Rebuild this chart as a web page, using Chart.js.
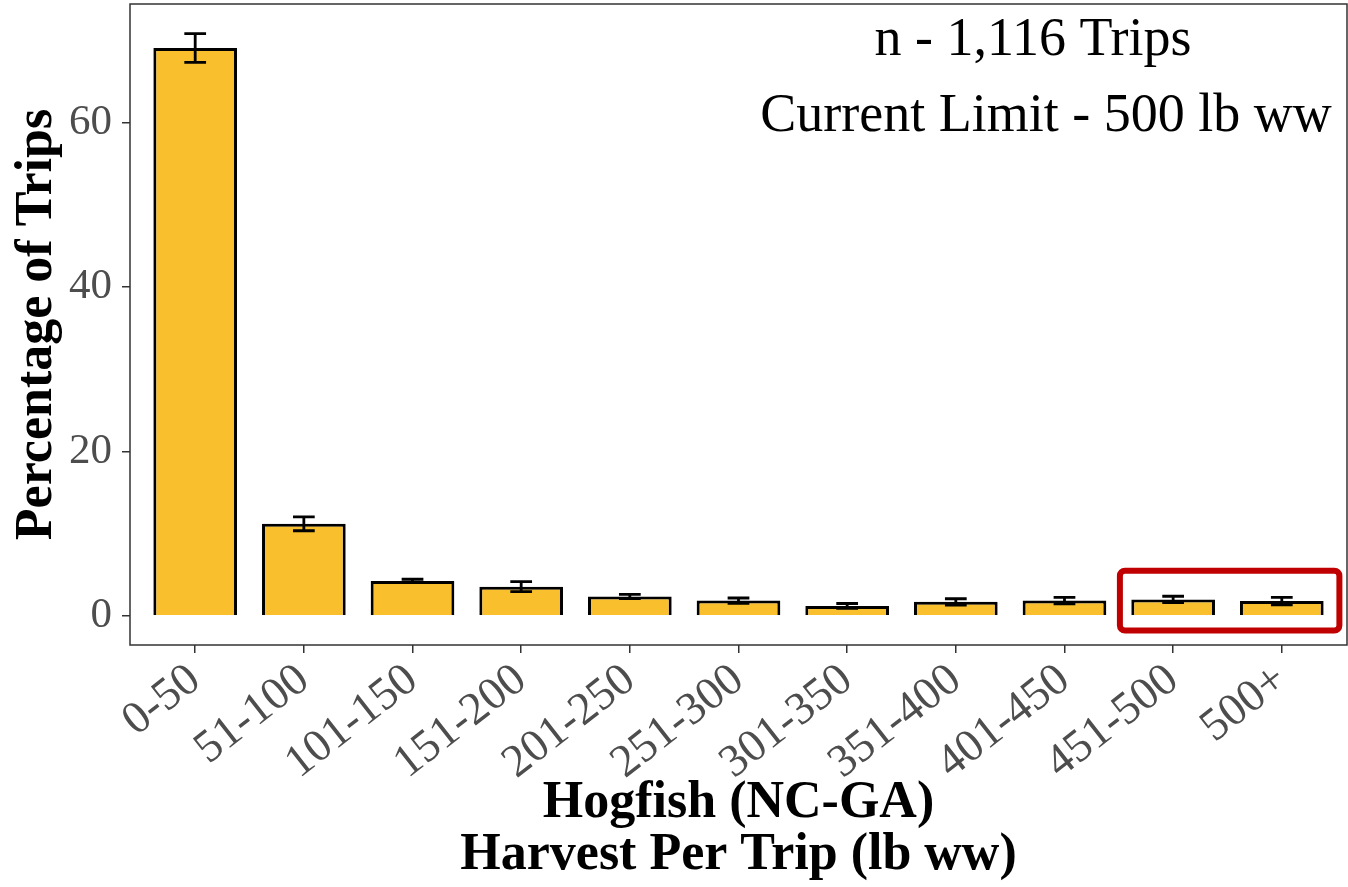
<!DOCTYPE html>
<html>
<head>
<meta charset="utf-8">
<script src="https://cdn.jsdelivr.net/npm/chart.js@4"></script>
<style>
  html, body { margin: 0; padding: 0; background: #fff; }
</style>
</head>
<body>
<canvas id="myChart" width="1348" height="887"></canvas>
<script>
// harvest bins and percentage of trips (+/- error)
const categories = ["0-50", "51-100", "101-150", "151-200", "201-250", "251-300",
                    "301-350", "351-400", "401-450", "451-500", "500+"];
const pctTrips = [69.1, 11.2, 4.25, 3.55, 2.35, 1.85, 1.2, 1.7, 1.85, 2.0, 1.8];
const errTrips = [1.75, 0.85, 0.2, 0.6, 0.26, 0.32, 0.3, 0.38, 0.4, 0.38, 0.45];
const yTicks = [0, 20, 40, 60];
const notes = ["n - 1,116 Trips", "Current Limit - 500 lb ww"];

const serif = '"Liberation Serif", "Times New Roman", serif';
Chart.defaults.font.family = serif;

// error bars, panel border, highlight box and notes
const extras = {
    id: "extras",
    afterDatasetsDraw(chart) {
        const { ctx, chartArea: a, scales: { x, y } } = chart;
        const band = x.getPixelForValue(1) - x.getPixelForValue(0);
        ctx.save();

        ctx.strokeStyle = "#000";
        ctx.lineWidth = 2.8;
        pctTrips.forEach((v, i) => {
            const cx = x.getPixelForValue(i);
            const top = y.getPixelForValue(v + errTrips[i]);
            const bot = y.getPixelForValue(v - errTrips[i]);
            const hw = band * 0.1;
            ctx.beginPath();
            ctx.moveTo(cx, top); ctx.lineTo(cx, bot);
            ctx.moveTo(cx - hw, top); ctx.lineTo(cx + hw, top);
            ctx.moveTo(cx - hw, bot); ctx.lineTo(cx + hw, bot);
            ctx.stroke();
        });

        // red box round the last two bins
        const bx0 = x.getPixelForValue(8.51), bx1 = x.getPixelForValue(10.53);
        const by0 = y.getPixelForValue(5.5), by1 = y.getPixelForValue(-1.8);
        ctx.strokeStyle = "#C00000";
        ctx.lineWidth = 6;
        ctx.beginPath();
        ctx.roundRect(bx0, by0, bx1 - bx0, by1 - by0, 5);
        ctx.stroke();

        ctx.strokeStyle = "#333";
        ctx.lineWidth = 1.5;
        ctx.strokeRect(a.left, a.top, a.width, a.height);

        ctx.fillStyle = "#000";
        ctx.font = "54px " + serif;
        ctx.textAlign = "center";
        ctx.textBaseline = "middle";
        ctx.fillText(notes[0], x.getPixelForValue(7.71), y.getPixelForValue(70));
        ctx.fillText(notes[1], x.getPixelForValue(7.83), y.getPixelForValue(60.7));
        ctx.restore();
    }
};

new Chart("myChart", {
    type: "bar",
    data: {
        labels: categories,
        datasets: [{
            data: pctTrips,
            backgroundColor: "#F9BF2C",
            borderColor: "#000",
            borderWidth: 3,
            barPercentage: 0.77,
            categoryPercentage: 1
        }]
    },
    options: {
        responsive: false,
        animation: false,
        layout: { padding: { top: 4, right: 1 } },
        plugins: {
            legend: { display: false },
            tooltip: { enabled: false }
        },
        scales: {
            x: {
                offset: true,
                afterBuildTicks(s) { s._startValue = -0.6; s._valueRange = 11.2; },
                afterFit(s) { s.height = 242; s.paddingLeft = 0; s.paddingRight = 0; },
                border: { display: false },
                grid: { offset: false, drawOnChartArea: false, tickLength: 8, color: "#333", lineWidth: 1.5 },
                ticks: {
                    color: "#4D4D4D",
                    font: { size: 46 },
                    minRotation: 38,
                    maxRotation: 38,
                    padding: 0
                },
                title: {
                    display: true,
                    text: ["Hogfish (NC-GA)", "Harvest Per Trip (lb ww)"],
                    color: "#000",
                    font: { size: 52, weight: "bold", lineHeight: 1.0 },
                    padding: { top: 0, bottom: 5 }
                }
            },
            y: {
                min: -3.55,
                max: 74.45,
                afterBuildTicks(s) { s.ticks = yTicks.map(v => ({ value: v })); },
                afterFit(s) { s.width = 130; s.paddingTop = 0; s.paddingBottom = 0; },
                border: { display: false },
                grid: { drawOnChartArea: false, tickLength: 8, color: "#333", lineWidth: 1.5 },
                ticks: {
                    color: "#4D4D4D",
                    font: { size: 43 },
                    padding: 10
                },
                title: {
                    display: true,
                    text: "Percentage of Trips",
                    color: "#000",
                    font: { size: 52, weight: "bold", lineHeight: 1.0 },
                    padding: { top: 12, bottom: 0 }
                }
            }
        }
    },
    plugins: [extras]
});
</script>
</body>
</html>
